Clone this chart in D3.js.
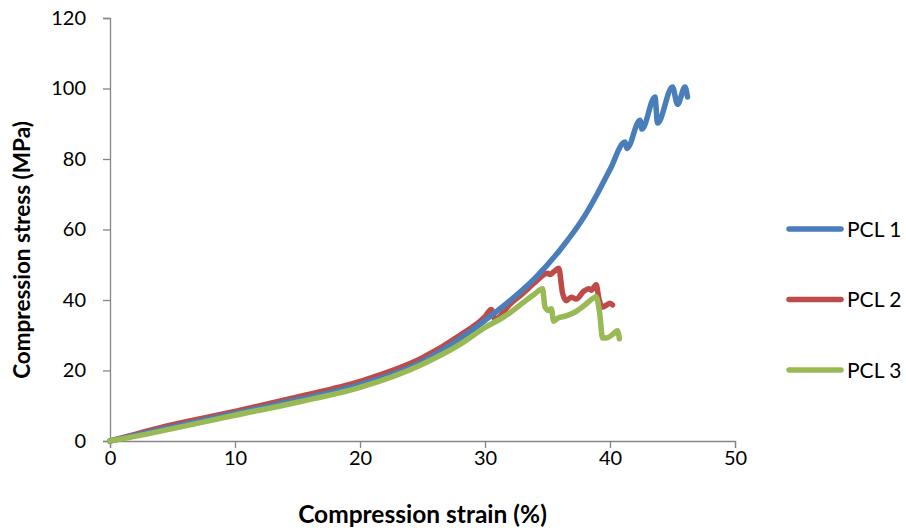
<!DOCTYPE html>
<html>
<head>
<meta charset="utf-8">
<script src="https://cdn.jsdelivr.net/npm/d3@7"></script>
<style>
  html, body { margin: 0; padding: 0; background: #fff; }
  svg { display: block; font-family: Lato, "Open Sans", sans-serif; }
</style>
</head>
<body>
<svg id="chart" width="906" height="531"></svg>
<script>
// Compression tests of three PCL samples: strain (%) vs stress (MPa)
const seriesNames = ["PCL 1", "PCL 2", "PCL 3"];
const seriesColors = ["#4A7EBB", "#BE4B48", "#98B954"];

const strain1 = [0, 2, 5, 10, 15, 20, 25, 28, 30, 32, 34, 36, 38, 39, 40, 41.2, 41.35, 42.4, 42.55, 43.6, 43.8, 45.0, 45.4, 46.0, 46.2];
const stress1 = [0, 1.6, 4.0, 7.8, 11.7, 16.0, 22.6, 29.0, 34.2, 39.8, 46.2, 54.2, 64.0, 70.2, 77.0, 84.8, 83.0, 91.0, 88.5, 97.6, 90.2, 100.4, 95.5, 100.4, 97.6];

const strain2 = [0, 2, 5, 10, 15, 20, 25, 28, 30, 30.5, 30.8, 32, 33, 34, 35, 35.2, 35.5, 35.9, 36.2, 36.5, 36.9, 37.3, 37.9, 38.3, 38.5, 38.9, 39.1, 39.4, 39.7, 40.0, 40.2];
const stress2 = [0, 1.9, 4.6, 8.4, 12.5, 16.9, 23.6, 30.0, 35.3, 37.3, 34.6, 38.8, 41.8, 45.0, 47.6, 47.2, 48.0, 49.0, 42.0, 39.8, 40.8, 40.3, 42.5, 43.2, 42.8, 44.3, 40.6, 38.0, 38.5, 39.1, 38.6];

const strain3 = [0, 2, 5, 10, 15, 20, 25, 28, 30, 31.5, 32, 33, 34, 34.6, 34.8, 35.1, 35.3, 35.5, 35.8, 36.5, 37.3, 38.0, 38.7, 38.9, 39.2, 39.4, 39.8, 40.3, 40.6, 40.75];
const stress3 = [0, 1.3, 3.5, 7.3, 11.0, 15.2, 21.8, 27.4, 32.2, 35.2, 36.4, 39.1, 41.8, 43.2, 38.0, 37.0, 37.5, 34.0, 34.8, 35.5, 36.8, 38.6, 40.6, 40.9, 35.5, 29.2, 29.3, 30.5, 31.3, 29.0];

const xTicks = [0, 10, 20, 30, 40, 50];
const yTicks = [0, 20, 40, 60, 80, 100, 120];

const svg = d3.select("#chart");
const plot = { left: 110, right: 735, top: 18, bottom: 441 };

const x = d3.scaleLinear().domain([0, 50]).range([plot.left, plot.right]);
const y = d3.scaleLinear().domain([0, 120]).range([plot.bottom, plot.top]);

const axisColor = "#868686";

// Y axis
const yAxis = svg.append("g")
  .attr("transform", `translate(${plot.left},0)`)
  .call(d3.axisLeft(y).tickValues(yTicks).tickSize(7).tickPadding(17).tickFormat(d3.format("d")));
// X axis
const xAxis = svg.append("g")
  .attr("transform", `translate(0,${plot.bottom})`)
  .call(d3.axisBottom(x).tickValues(xTicks).tickSize(7).tickPadding(3).tickFormat(d3.format("d")));

[yAxis, xAxis].forEach(g => {
  g.select(".domain").attr("stroke", axisColor).attr("stroke-width", 1.3);
  g.selectAll(".tick line").attr("stroke", axisColor).attr("stroke-width", 1.3);
  g.selectAll(".tick text").attr("fill", "#000").style("font-size", "20px").style("font-family", "Lato, sans-serif");
});

// Data series, drawn in this order so the overlapping bands stack the same way
const series = [
  { name: seriesNames[1], color: seriesColors[1], xs: strain2, ys: stress2 },
  { name: seriesNames[0], color: seriesColors[0], xs: strain1, ys: stress1 },
  { name: seriesNames[2], color: seriesColors[2], xs: strain3, ys: stress3 }
];

const line = d3.line()
  .x(d => x(d[0]))
  .y(d => y(d[1]))
  .curve(d3.curveMonotoneX);

series.forEach(s => {
  svg.append("path")
    .datum(s.xs.map((v, i) => [v, s.ys[i]]))
    .attr("fill", "none")
    .attr("stroke", s.color)
    .attr("stroke-width", 5.5)
    .attr("stroke-linejoin", "round")
    .attr("stroke-linecap", "round")
    .attr("d", line);
});

// Axis titles
svg.append("text")
  .attr("x", (plot.left + plot.right) / 2)
  .attr("y", 523)
  .attr("text-anchor", "middle")
  .style("font-size", "24.5px")
  .style("font-weight", "bold")
  .text("Compression strain (%)");

svg.append("text")
  .attr("transform", `translate(30,250) rotate(-90)`)
  .attr("text-anchor", "middle")
  .style("font-size", "22.5px")
  .style("font-weight", "bold")
  .text("Compression stress (MPa)");

// Legend
const legend = svg.append("g");
seriesNames.forEach((name, i) => {
  const ly = 229 + i * 70.5;
  legend.append("line")
    .attr("x1", 789).attr("x2", 841)
    .attr("y1", ly).attr("y2", ly)
    .attr("stroke", seriesColors[i])
    .attr("stroke-width", 5.5)
    .attr("stroke-linecap", "round");
  legend.append("text")
    .attr("x", 847)
    .attr("y", ly + 7.5)
    .style("font-size", "21px")
    .text(name);
});
</script>
</body>
</html>
